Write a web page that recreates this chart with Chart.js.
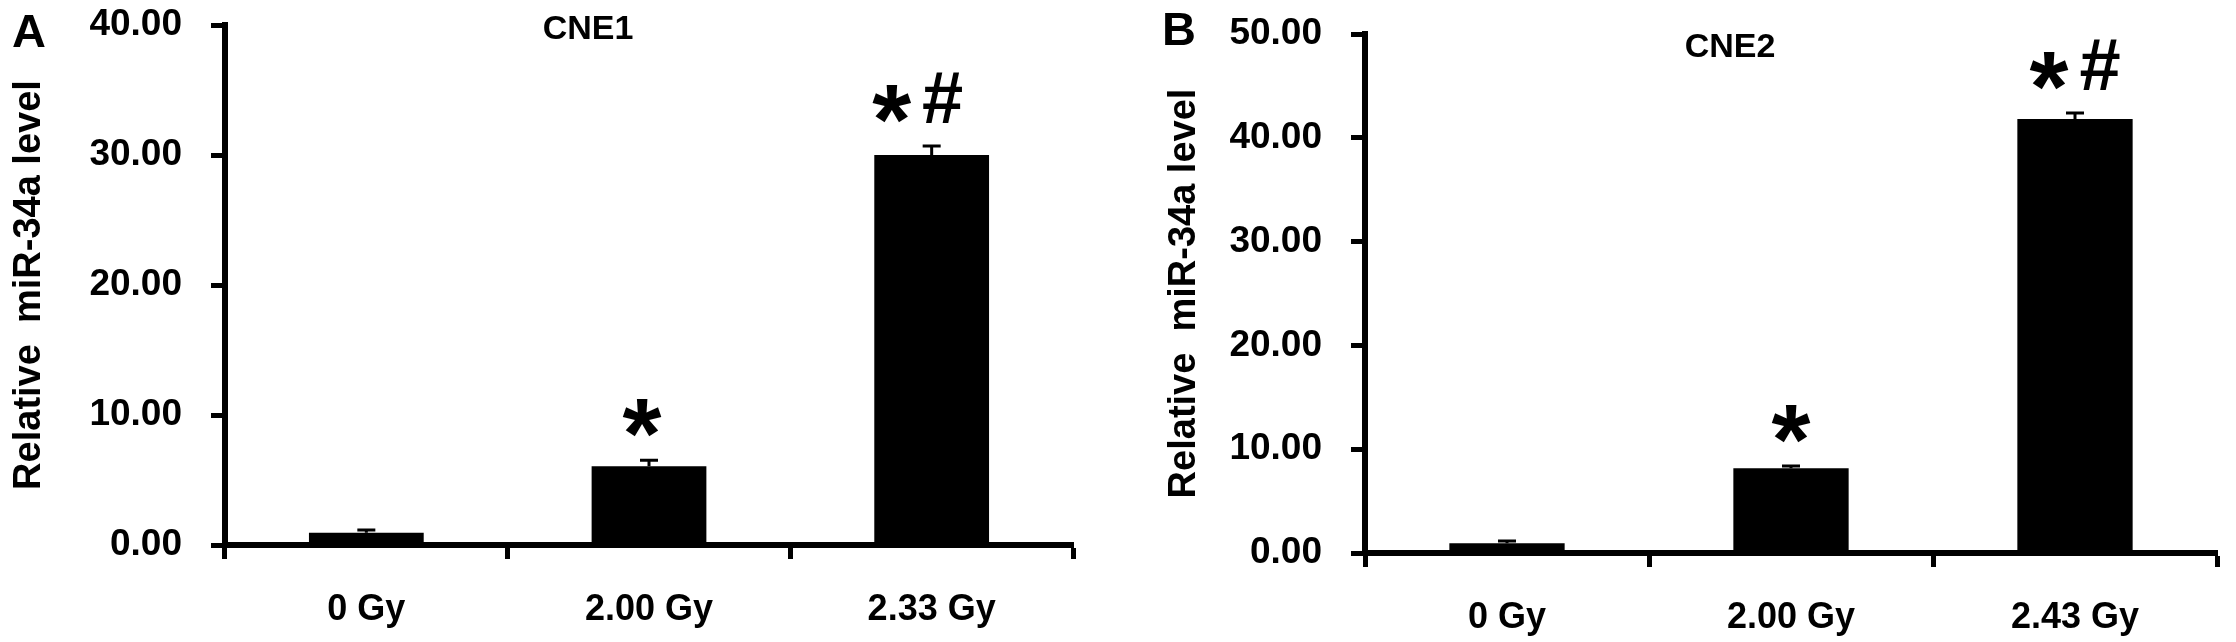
<!DOCTYPE html>
<html>
<head>
<meta charset="utf-8">
<script src="https://cdn.jsdelivr.net/npm/chart.js@4.4.1/dist/chart.umd.min.js"></script>
<style>
  html, body { margin: 0; padding: 0; background: #fff; }
  body { width: 2236px; height: 642px; position: relative; overflow: hidden; }
  canvas { position: absolute; top: 0; }
  #cne1 { left: 0; }
  #cne2 { left: 1140px; }
</style>
</head>
<body>
<canvas id="cne1" width="1110" height="642"></canvas>
<canvas id="cne2" width="1096" height="642"></canvas>
<script>
// datos
const dosesA = ['0 Gy', '2.00 Gy', '2.33 Gy'];
const levelsA = [0.95, 6.05, 30.0];
const errorsA = [0.2, 0.46, 0.7];
const marksA = ['', '*', '*#'];
const maxA = 40;

const dosesB = ['0 Gy', '2.00 Gy', '2.43 Gy'];
const levelsB = [0.95, 8.17, 41.8];
const errorsB = [0.2, 0.2, 0.6];
const marksB = ['', '*', '*#'];
const maxB = 50;

const yStep = 10;
const FONT = '"Liberation Sans", Arial, sans-serif';

// barras de error (solo hacia arriba) y marcas de significancia
const extrasPlugin = {
    id: 'extras',
    afterDatasetsDraw(chart, args, opts) {
        const ctx = chart.ctx;
        const yScale = chart.scales.y;
        const meta = chart.getDatasetMeta(0);
        const values = chart.data.datasets[0].data;

        ctx.save();
        ctx.strokeStyle = '#000';
        ctx.lineWidth = 3;
        meta.data.forEach((bar, i) => {
            const top = yScale.getPixelForValue(values[i] + opts.errors[i]);
            ctx.beginPath();
            ctx.moveTo(bar.x, bar.y);
            ctx.lineTo(bar.x, top);
            ctx.moveTo(bar.x - 9, top);
            ctx.lineTo(bar.x + 9, top);
            ctx.stroke();

            const mark = opts.marks[i];
            if (!mark) return;
            const bottom = top - 23;
            ctx.fillStyle = '#000';
            ctx.textAlign = 'center';
            ctx.textBaseline = 'alphabetic';
            const drawGlyph = (ch, size, cx) => {
                ctx.font = 'bold ' + size + 'px ' + FONT;
                const m = ctx.measureText(ch);
                ctx.fillText(ch, cx, bottom - m.actualBoundingBoxDescent);
            };
            if (mark === '*') {
                drawGlyph('*', 100, bar.x + opts.shift / 2);
            } else {
                drawGlyph('*', 100, bar.x + opts.shift - 26);
                drawGlyph('#', 74, bar.x + opts.shift + 25);
            }
        });

        // letra del panel y nombre de la línea celular
        ctx.textAlign = 'left';
        ctx.textBaseline = 'alphabetic';
        ctx.font = 'bold 47px ' + FONT;
        ctx.fillText(opts.panel, opts.panelX, opts.panelY);
        ctx.textAlign = 'center';
        ctx.textBaseline = 'middle';
        ctx.font = 'bold 34px ' + FONT;
        ctx.fillText(opts.title, opts.titleX, opts.titleY);
        ctx.restore();
    }
};

function makeChart(canvasId, labels, values, extras, yMax, pad, titlePad) {
    const canvas = document.getElementById(canvasId);
    return new Chart(canvas, {
        type: 'bar',
        data: {
            labels,
            datasets: [{
                data: values,
                backgroundColor: '#000',
                borderWidth: 0,
                categoryPercentage: 1,
                barPercentage: 0.406
            }]
        },
        options: {
            responsive: false,
            animation: false,
            devicePixelRatio: 1,
            layout: { padding: pad },
            plugins: {
                legend: { display: false },
                tooltip: { enabled: false },
                extras
            },
            scales: {
                x: {
                    afterFit: s => { s.height = 642 - pad.bottomEdge; },
                    border: { color: '#000', width: 6 },
                    grid: {
                        drawOnChartArea: false,
                        tickLength: 14,
                        tickWidth: 5,
                        tickColor: '#000',
                        offset: true
                    },
                    ticks: {
                        color: '#000',
                        padding: 29,
                        font: { family: FONT, size: 36, weight: 'bold' }
                    }
                },
                y: {
                    min: 0,
                    max: yMax,
                    // ancho fijo y sin reservar espacio extra arriba/abajo
                    afterFit: s => {
                        s.width = 225;
                        s.paddingTop = 0;
                        s.paddingBottom = 0;
                    },
                    border: { color: '#000', width: 6 },
                    grid: {
                        drawOnChartArea: false,
                        tickLength: 14,
                        tickWidth: 5,
                        tickColor: '#000'
                    },
                    ticks: {
                        stepSize: yStep,
                        color: '#000',
                        padding: 29,
                        font: { family: FONT, size: 37, weight: 'bold' },
                        callback: v => v.toFixed(2)
                    },
                    title: {
                        display: true,
                        text: 'Relative  miR-34a level',
                        color: '#000',
                        padding: { top: titlePad, bottom: 0 },
                        font: { family: FONT, size: 38, weight: 'bold' }
                    }
                }
            }
        },
        plugins: [extrasPlugin]
    });
}

makeChart('cne1', dosesA, levelsA, {
    errors: errorsA, marks: marksA, shift: -14,
    panel: 'A', panelX: 12, panelY: 47,
    title: 'CNE1', titleX: 588, titleY: 30
}, maxA, { left: 0, right: 37, top: 25, bottom: 0, bottomEdge: 545 }, 7);

makeChart('cne2', dosesB, levelsB, {
    errors: errorsB, marks: marksB, shift: 0,
    panel: 'B', panelX: 22, panelY: 45,
    title: 'CNE2', titleX: 590, titleY: 48
}, maxB, { left: 0, right: 19, top: 34, bottom: 0, bottomEdge: 553 }, 22);
</script>
</body>
</html>
